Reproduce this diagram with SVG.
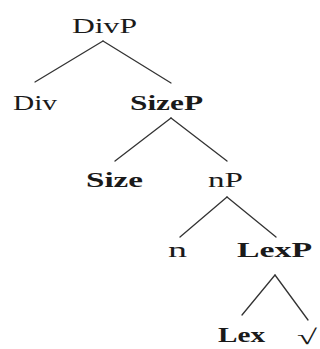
<svg xmlns="http://www.w3.org/2000/svg" width="320" height="349" viewBox="0 0 320 349">
  <style>
    .lbl { font-family: "Liberation Serif", "DejaVu Serif", serif; font-size: 21px; fill: #1a1a1a; }
    .b { font-weight: bold; }
    .edge { stroke: #333; stroke-width: 1.3; fill: none; stroke-linecap: round; }
  </style>
  <rect width="320" height="349" fill="#ffffff"/>
  <g id="edges">
    <line class="edge" x1="103" y1="41" x2="35" y2="82"/>
    <line class="edge" x1="103" y1="41" x2="171" y2="83"/>
    <line class="edge" x1="171" y1="118" x2="115" y2="161"/>
    <line class="edge" x1="171" y1="118" x2="227" y2="161"/>
    <line class="edge" x1="227" y1="197" x2="180" y2="237"/>
    <line class="edge" x1="227" y1="197" x2="276" y2="237"/>
    <line class="edge" x1="275" y1="275" x2="242" y2="315"/>
    <line class="edge" x1="275" y1="275" x2="308" y2="320"/>
  </g>
  <g id="DivP"><text class="lbl" x="72" y="33" textLength="65" lengthAdjust="spacingAndGlyphs">DivP</text></g>
  <g id="Div"><text class="lbl" x="13" y="110" textLength="44" lengthAdjust="spacingAndGlyphs">Div</text></g>
  <g id="SizeP"><text class="lbl b" x="130" y="110" textLength="73" lengthAdjust="spacingAndGlyphs">SizeP</text></g>
  <g id="Size"><text class="lbl b" x="86" y="187" textLength="57" lengthAdjust="spacingAndGlyphs">Size</text></g>
  <g id="nP"><text class="lbl" x="208" y="187" textLength="35" lengthAdjust="spacingAndGlyphs">nP</text></g>
  <g id="n"><text class="lbl" x="168" y="257" textLength="19" lengthAdjust="spacingAndGlyphs">n</text></g>
  <g id="LexP"><text class="lbl b" x="237" y="257" textLength="75" lengthAdjust="spacingAndGlyphs">LexP</text></g>
  <g id="Lex"><text class="lbl b" x="218" y="342" textLength="47" lengthAdjust="spacingAndGlyphs">Lex</text></g>
  <g id="root"><text class="lbl" x="297" y="344" font-size="27" textLength="20" lengthAdjust="spacingAndGlyphs">√</text></g>
</svg>
